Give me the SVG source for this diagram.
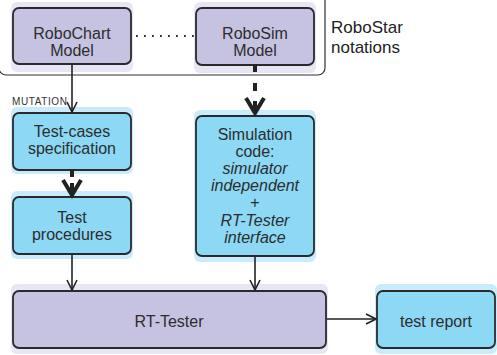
<svg xmlns="http://www.w3.org/2000/svg" width="497" height="355" viewBox="0 0 497 355">
<defs>
<style>
.lav{fill:#c6c2e1;stroke:#2a2a2a;stroke-width:1.8}
.lavs{fill:#e8e6f4}
.blu{fill:#8cd8f5;stroke:#2a2a2a;stroke-width:1.8}
.blus{fill:#c8ecfb}
.t{font-family:"Liberation Sans",Arial,sans-serif;font-size:16px;fill:#2d2d2d;text-anchor:middle}
.i{font-style:italic}
.thin{stroke:#222;stroke-width:1.6;fill:none}
.thick{stroke:#222;stroke-width:4;fill:none}
</style>
<marker id="ah" viewBox="0 0 12 12" refX="11" refY="6" markerWidth="12" markerHeight="12" markerUnits="userSpaceOnUse" orient="auto">
<path d="M1,1 L11,6 L1,11" fill="none" stroke="#222" stroke-width="1.6"/>
</marker>
</defs>
<rect x="-1" y="-8" width="326" height="83" rx="7" fill="#fff" stroke="#333" stroke-width="1.2"/>
<text x="331" y="33" font-family="'Liberation Sans',Arial,sans-serif" font-size="17" fill="#222">RoboStar</text>
<text x="331" y="53" font-family="'Liberation Sans',Arial,sans-serif" font-size="17" fill="#222">notations</text>
<g id="robochart">
<rect class="lavs" x="11" y="2" width="122" height="70" rx="6"/>
<rect class="lav" x="13" y="8" width="118" height="56" rx="6"/>
<text class="t" x="72" y="39">RoboChart</text>
<text class="t" x="72" y="56">Model</text>
</g>
<g id="robosim">
<rect class="lavs" x="194" y="2" width="122" height="71" rx="6"/>
<rect class="lav" x="196" y="8" width="118" height="57" rx="6"/>
<text class="t" x="255" y="39">RoboSim</text>
<text class="t" x="255" y="56">Model</text>
</g>
<g id="testcases">
<rect class="blus" x="11" y="107" width="122" height="67" rx="6"/>
<rect class="blu" x="13" y="113" width="118" height="57" rx="6"/>
<text class="t" x="72" y="137">Test-cases</text>
<text class="t" x="72" y="154">specification</text>
</g>
<g id="testprocedures">
<rect class="blus" x="11" y="191" width="122" height="68" rx="6"/>
<rect class="blu" x="13" y="197" width="118" height="57" rx="6"/>
<text class="t" x="72" y="223">Test</text>
<text class="t" x="72" y="240">procedures</text>
</g>
<g id="simulation">
<rect class="blus" x="194" y="110" width="122" height="152" rx="6"/>
<rect class="blu" x="196" y="116" width="118" height="140" rx="6"/>
<text class="t" x="255" y="140">Simulation</text>
<text class="t" x="255" y="157">code:</text>
<text class="t i" x="255" y="174">simulator</text>
<text class="t i" x="255" y="191">independent</text>
<text class="t" x="255" y="208">+</text>
<text class="t i" x="255" y="226">RT-Tester</text>
<text class="t i" x="255" y="243">interface</text>
</g>
<g id="rttester">
<rect class="lavs" x="11" y="284" width="317" height="70" rx="6"/>
<rect class="lav" x="13" y="291" width="313" height="57" rx="6"/>
<text class="t" x="169" y="327">RT-Tester</text>
</g>
<g id="testreport">
<rect class="blus" x="375" y="284" width="122" height="70" rx="6"/>
<rect class="blu" x="377" y="291" width="118" height="57" rx="6"/>
<text class="t" x="436" y="327">test report</text>
</g>
<g id="connectors">
<line x1="136" y1="36" x2="194" y2="36" stroke="#333" stroke-width="1.8" stroke-dasharray="1.8 6.2"/>
<line class="thin" x1="72" y1="65" x2="72" y2="112" marker-end="url(#ah)"/>
<text x="12" y="104.5" font-family="'Liberation Sans',Arial,sans-serif" font-size="10" fill="#333" letter-spacing="0.6">MUTATION</text>
<line class="thick" x1="255" y1="65" x2="255" y2="72"/>
<line class="thick" x1="255" y1="83" x2="255" y2="91"/>
<path class="thick" d="M246,98 L255,113 L264,98"/>
<line class="thick" x1="255" y1="101" x2="255" y2="113"/>
<line class="thick" x1="72" y1="170" x2="72" y2="177"/>
<path class="thick" d="M63,180 L72,195 L81,180"/>
<line class="thick" x1="72" y1="183" x2="72" y2="195"/>
<line class="thin" x1="72" y1="255" x2="72" y2="290" marker-end="url(#ah)"/>
<line class="thin" x1="255" y1="257" x2="255" y2="290" marker-end="url(#ah)"/>
<line class="thin" x1="327" y1="319" x2="376" y2="319" marker-end="url(#ah)"/>
</g>
</svg>
